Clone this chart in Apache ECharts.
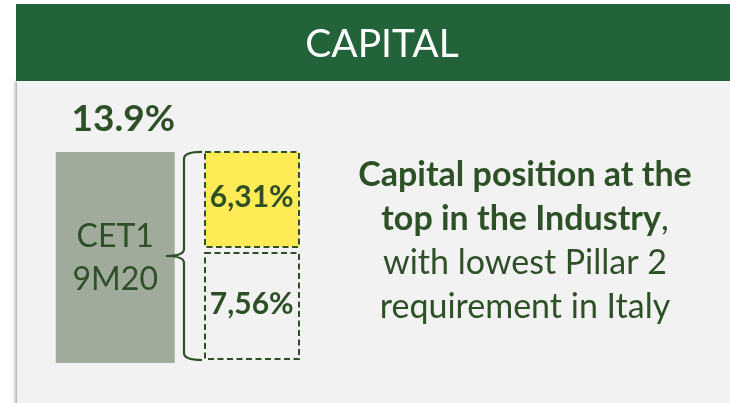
<!DOCTYPE html>
<html>
<head>
<meta charset="utf-8">
<script src="https://cdn.jsdelivr.net/npm/echarts@6/dist/echarts.min.js"></script>
<style>
  * { margin: 0; padding: 0; }
  body { background: #ffffff; }
</style>
</head>
<body>
<!-- chart container -->
<div id="main" style="width: 730px; height: 403px"></div>
<script>
// data
var categories = ["CET1 9M20", "Requirement"];
var cet1Label = ["CET1", "9M20"];
var cet1Value = [13.9];
var reqValues = [7.56, 6.31]; // bottom box, top (yellow) box
var reqColors = ["rgba(0,0,0,0)", "#ffeb55"];
var titleText = "CAPITAL";

var DARK = "#2d5026";
var FONT = "Lato, 'Open Sans', sans-serif";

// stacked starts / ends for the requirement boxes
var reqData = [];
var acc = 0;
for (var i = 0; i < reqValues.length; i++) {
  reqData.push([1, acc, acc + reqValues[i], reqValues[i]]);
  acc += reqValues[i];
}
var reqTotal = acc;

function fmtComma(v) {
  return v.toFixed(2).replace(".", ",") + "%";
}

var chart = echarts.init(document.getElementById("main"));
chart.setOption({
  animation: false,
  textStyle: { fontFamily: FONT },
  grid: { left: 47, width: 273, top: 150.5, bottom: 40 },
  xAxis: { type: "category", data: categories, show: false },
  yAxis: { type: "value", min: 0, max: 14, show: false },
  // background band, panel and free text
  graphic: [
    {
      type: "rect", z: 0, silent: true,
      shape: { x: 17, y: 81, width: 720, height: 330 },
      style: { fill: "#f2f2f2", shadowBlur: 4, shadowOffsetX: -1, shadowColor: "rgba(0,0,0,0.45)" }
    },
    {
      type: "rect", z: 1, silent: true,
      shape: { x: 16, y: 4, width: 720, height: 77 },
      style: { fill: "#22633a" }
    },
    {
      type: "text", z: 2, silent: true,
      x: 382, y: 44,
      style: {
        text: titleText, fill: "#ffffff", font: "39px " + FONT,
        align: "center", verticalAlign: "middle"
      }
    },
    {
      type: "text", z: 2, silent: true,
      x: 525, y: 241,
      style: {
        text: "{b|Capital position at the}\n{b|top in the Industry}{r|,}\n{r|with lowest Pillar 2}\n{r|requirement in Italy}",
        align: "center", verticalAlign: "middle",
        rich: {
          b: { fill: DARK, fontFamily: FONT, fontWeight: "bold", fontSize: 34, lineHeight: 44 },
          r: { fill: DARK, fontFamily: FONT, fontSize: 34, lineHeight: 44 }
        }
      }
    }
  ],
  series: [
    {
      type: "bar",
      data: cet1Value,
      barWidth: 119,
      itemStyle: { color: "#a0ab9b" },
      label: {
        show: true,
        position: "inside",
        offset: [0, 1],
        formatter: cet1Label.join("\n"),
        color: DARK,
        fontFamily: FONT,
        fontSize: 32,
        lineHeight: 43
      },
      z: 3
    },
    {
      // value on top of the CET1 bar
      type: "scatter",
      data: [[0, cet1Value[0]]],
      symbolSize: 0,
      itemStyle: { color: "rgba(0,0,0,0)", opacity: 1 },
      label: {
        show: true,
        position: "top",
        distance: 14,
        offset: [8, 0],
        formatter: function (p) { return p.value[1].toFixed(1) + "%"; },
        color: DARK,
        opacity: 1,
        fontFamily: FONT,
        fontWeight: "bold",
        fontSize: 37
      },
      z: 4
    },
    {
      // dashed requirement boxes
      type: "custom",
      data: reqData,
      z: 4,
      renderItem: function (params, api) {
        var idx = params.dataIndex;
        var c0 = api.coord([api.value(0), api.value(1)]);
        var c1 = api.coord([api.value(0), api.value(2)]);
        var w = 94;
        var x0 = Math.round(c0[0] - w / 2);
        var yb = Math.round(c0[1] - (idx === 0 ? 4 : 1));
        var yt = Math.round(c1[1] + (idx === 0 ? 5 : 0));
        return {
          type: "group",
          children: [
            {
              type: "rect",
              shape: { x: x0, y: yt, width: w, height: yb - yt },
              style: {
                fill: reqColors[idx],
                stroke: DARK,
                lineWidth: 2,
                lineDash: [6, 3.5]
              }
            },
            {
              type: "text",
              x: c0[0],
              y: (yt + yb) / 2 - 2,
              style: {
                text: fmtComma(api.value(3)),
                fill: DARK,
                font: "bold 30px " + FONT,
                align: "center",
                verticalAlign: "middle"
              }
            }
          ]
        };
      }
    },
    {
      // curly bracket joining CET1 bar and requirement boxes
      type: "custom",
      data: [[0, reqTotal]],
      z: 5,
      renderItem: function (params, api) {
        var base = api.coord([1, 0]);
        var top = api.coord([1, api.value(1)]);
        var boxLeft = Math.round(base[0] - 47);
        var xv = boxLeft - 21;
        var xe = boxLeft - 3;
        var yt = top[1] - 0.5;
        var yb = base[1] - 3;
        var ym = (yt + yb) / 2;
        var xt = xv - 18;
        var r = 7;
        var path =
          "M" + xe + " " + yt +
          " Q" + xv + " " + yt + " " + xv + " " + (yt + r) +
          " L" + xv + " " + (ym - r) +
          " Q" + xv + " " + ym + " " + xt + " " + ym +
          " Q" + xv + " " + ym + " " + xv + " " + (ym + r) +
          " L" + xv + " " + (yb - r) +
          " Q" + xv + " " + yb + " " + xe + " " + yb;
        return {
          type: "path",
          shape: { pathData: path },
          style: { fill: null, stroke: DARK, lineWidth: 2.2 }
        };
      }
    }
  ]
});
</script>
</body>
</html>
